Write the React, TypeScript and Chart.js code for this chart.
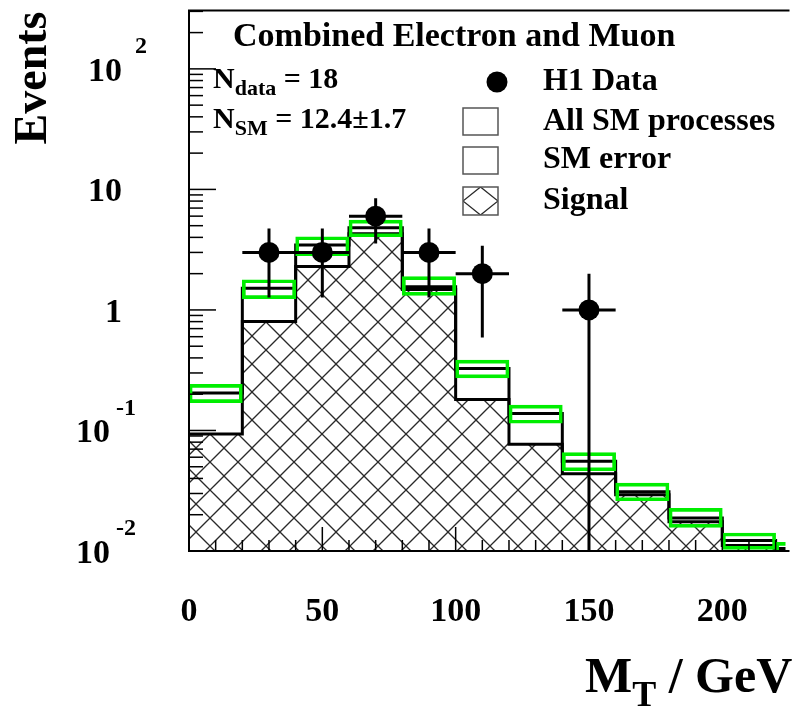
import React, { useEffect, useRef } from "react";
import { Chart, registerables } from "chart.js";
Chart.register(...registerables);

// ---------------- data ----------------
const binEdges = [0, 20, 40, 60, 80, 100, 120, 140, 160, 180, 200, 220, 240];
const smTotal = [0.205, 1.51, 3.46, 4.8, 1.56, 0.327, 0.138, 0.0556, 0.031, 0.0188, 0.0122, 0.0105];
const smErrUp = [0.241, 1.78, 4.05, 5.56, 1.89, 0.383, 0.1625, 0.0655, 0.0366, 0.0226, 0.0141, 0.0118];
const smErrDown = [0.17, 1.24, 2.82, 4.05, 1.32, 0.273, 0.1147, 0.0463, 0.0261, 0.0157, 0.0103, 0.009];
const signal = [0.0936, 0.803, 2.29, 4.29, 1.48, 0.181, 0.0769, 0.0437, 0.0293, 0.0175, 0.0111, 0.0095];
const dataX = [30, 50, 70, 90, 110, 150];
const dataY = [3, 3, 6, 3, 2, 1];
const dataErr = [1.73, 1.73, 2.45, 1.73, 1.41, 1.0];
const dataXErr = [10, 10, 10, 10, 10, 10];
const xTickLabels = [0, 50, 100, 150, 200];
const yLabelValues = [0.01, 0.1, 1, 10, 100];
const yLabelBase = ["10", "10", "1", "10", "10"];
const yLabelExp = ["-2", "-1", "", "", "2"];
const legendLabels = ["H1 Data", "All SM processes", "SM error", "Signal"];
const titleText = "Combined Electron and Muon";
const nDataText = ["N", "data", " = 18"];
const nSMText = ["N", "SM", " = 12.4\u00b11.7"];

const X_MIN = 0;
const X_MAX = 223.7;
const Y_MIN = 0.01;
const Y_MAX = 305;

const FONT = "'Liberation Serif', 'Times New Roman', serif";
const GREEN = "#00ee00";

function makeHatch(): CanvasPattern | string {
  const s = 28;
  const c = document.createElement("canvas");
  c.width = s;
  c.height = s;
  const g = c.getContext("2d");
  if (!g) return "#fff";
  g.fillStyle = "#fff";
  g.fillRect(0, 0, s, s);
  g.strokeStyle = "#2a2a2a";
  g.lineWidth = 1.3;
  for (const d of [-s, 0, s]) {
    g.beginPath();
    g.moveTo(d, 0);
    g.lineTo(d + s, s);
    g.stroke();
    g.beginPath();
    g.moveTo(d + s, 0);
    g.lineTo(d, s);
    g.stroke();
  }
  const p = g.createPattern(c, "repeat");
  return p || "#fff";
}

function stepPoints(vals: number[]) {
  const pts = vals.map((v, i) => ({ x: binEdges[i], y: v }));
  pts.push({ x: binEdges[vals.length], y: vals[vals.length - 1] });
  return pts;
}

function textRun(ctx: CanvasRenderingContext2D, x: number, y: number, parts: { t: string; size: number; dy: number }[]) {
  let cx = x;
  for (const p of parts) {
    ctx.font = `bold ${p.size}px ${FONT}`;
    ctx.fillText(p.t, cx, y + p.dy);
    cx += ctx.measureText(p.t).width;
  }
}

const decorPlugin = {
  id: "decor",
  afterDraw(chart: any) {
    const { ctx, chartArea: a, scales } = chart;
    const xs = scales.x;
    const ys = scales.y;
    ctx.save();
    ctx.fillStyle = "#000";
    ctx.strokeStyle = "#000";
    // frame
    ctx.lineWidth = 2;
    ctx.beginPath();
    ctx.moveTo(a.right + 4, a.top);
    ctx.lineTo(a.left, a.top);
    ctx.lineTo(a.left, a.bottom);
    ctx.lineTo(a.right + 4, a.bottom);
    ctx.stroke();
    // y ticks (inward)
    ctx.lineWidth = 1.5;
    for (let e = -3; e <= 3; e++) {
      for (let m = 1; m <= 9; m++) {
        const v = m * Math.pow(10, e);
        if (v < Y_MIN * 0.999 || v > Y_MAX) continue;
        const py = ys.getPixelForValue(v);
        const len = m === 1 ? 27 : 14;
        ctx.beginPath();
        ctx.moveTo(a.left, py);
        ctx.lineTo(a.left + len, py);
        ctx.stroke();
      }
    }
    // x ticks (inward)
    for (let v = 0; v <= X_MAX; v += 10) {
      const px = xs.getPixelForValue(v);
      const len = v % 50 === 0 ? 24 : 11;
      ctx.beginPath();
      ctx.moveTo(px, a.bottom);
      ctx.lineTo(px, a.bottom - len);
      ctx.stroke();
    }
    // y labels
    ctx.textBaseline = "middle";
    yLabelValues.forEach((v, i) => {
      const py = ys.getPixelForValue(v);
      const exp = yLabelExp[i];
      ctx.font = `bold 34px ${FONT}`;
      ctx.textAlign = "right";
      const baseRight = exp.startsWith("-") ? 110 : 122;
      ctx.fillText(yLabelBase[i], baseRight, py + 3);
      if (exp) {
        ctx.font = `bold 24px ${FONT}`;
        ctx.textAlign = "left";
        ctx.fillText(exp, baseRight + (exp.startsWith("-") ? 6 : 13), py - 22);
      }
    });
    // x tick labels
    ctx.font = `bold 34px ${FONT}`;
    ctx.textAlign = "center";
    xTickLabels.forEach((v) => {
      ctx.fillText(String(v), xs.getPixelForValue(v), 612);
    });
    // axis titles
    ctx.save();
    ctx.translate(34, 78);
    ctx.rotate(-Math.PI / 2);
    ctx.font = `bold 46px ${FONT}`;
    ctx.textAlign = "center";
    ctx.textBaseline = "middle";
    ctx.fillText("Events", 0, 0);
    ctx.restore();
    ctx.textAlign = "left";
    ctx.textBaseline = "alphabetic";
    textRun(ctx, 585, 692, [
      { t: "M", size: 50, dy: 0 },
      { t: "T", size: 36, dy: 14 },
      { t: " / GeV", size: 50, dy: 0 },
    ]);
    // title and numbers
    ctx.textBaseline = "middle";
    ctx.font = `bold 34px ${FONT}`;
    ctx.fillText(titleText, 233, 37);
    textRun(ctx, 213, 80, [
      { t: nDataText[0], size: 30, dy: 0 },
      { t: nDataText[1], size: 22, dy: 9 },
      { t: nDataText[2], size: 30, dy: 0 },
    ]);
    textRun(ctx, 213, 120, [
      { t: nSMText[0], size: 30, dy: 0 },
      { t: nSMText[1], size: 22, dy: 9 },
      { t: nSMText[2], size: 30, dy: 0 },
    ]);
    // legend
    const rows = [82, 122, 160, 201];
    ctx.beginPath();
    ctx.arc(497, rows[0], 10.5, 0, Math.PI * 2);
    ctx.fill();
    ctx.lineWidth = 1.5;
    ctx.strokeStyle = "#555";
    ctx.strokeRect(463, rows[1] - 14, 35, 27);
    ctx.strokeRect(463, rows[2] - 13, 35, 27);
    ctx.save();
    ctx.beginPath();
    ctx.rect(463, rows[3] - 14, 35, 28);
    ctx.clip();
    ctx.strokeStyle = "#2a2a2a";
    ctx.lineWidth = 1.3;
    ctx.beginPath();
    ctx.moveTo(463, rows[3]);
    ctx.lineTo(480.5, rows[3] - 14);
    ctx.lineTo(498, rows[3]);
    ctx.lineTo(480.5, rows[3] + 14);
    ctx.closePath();
    ctx.stroke();
    ctx.restore();
    ctx.strokeStyle = "#555";
    ctx.lineWidth = 1.5;
    ctx.strokeRect(463, rows[3] - 14, 35, 28);
    ctx.fillStyle = "#000";
    ctx.font = `bold 32px ${FONT}`;
    ctx.textAlign = "left";
    ctx.textBaseline = "middle";
    legendLabels.forEach((l, i) => ctx.fillText(l, 543, rows[i]));
    ctx.restore();
  },
};

export default function App() {
  const ref = useRef<HTMLCanvasElement | null>(null);
  useEffect(() => {
    if (!ref.current) return;
    const hatch = makeHatch();
    const centers = binEdges.slice(0, -1).map((e, i) => (e + binEdges[i + 1]) / 2);
    const errPts: { x: number; y: number | null }[] = [];
    dataX.forEach((x, i) => {
      errPts.push({ x, y: Math.max(dataY[i] - dataErr[i], Y_MIN * 0.3) });
      errPts.push({ x, y: dataY[i] + dataErr[i] });
      errPts.push({ x, y: null });
      errPts.push({ x: x - dataXErr[i], y: dataY[i] });
      errPts.push({ x: x + dataXErr[i], y: dataY[i] });
      errPts.push({ x, y: null });
    });
    const chart = new Chart(ref.current, {
      type: "line",
      data: {
        datasets: [
          {
            type: "line",
            label: "Signal",
            data: stepPoints(signal),
            stepped: true,
            fill: "start",
            backgroundColor: hatch as any,
            borderColor: "#000",
            borderWidth: 3,
            pointRadius: 0,
            order: 5,
          },
          {
            type: "line",
            label: "All SM processes",
            data: stepPoints(smTotal),
            stepped: true,
            fill: false,
            borderColor: "#000",
            borderWidth: 3,
            pointRadius: 0,
            order: 4,
          },
          {
            type: "bar",
            label: "SM error",
            data: centers.map((c, i) => ({ x: c, y: [smErrDown[i], smErrUp[i]] })) as any,
            backgroundColor: "rgba(0,0,0,0)",
            borderColor: GREEN,
            borderWidth: 3,
            borderSkipped: false,
            barPercentage: 1,
            categoryPercentage: 1,
            order: 3,
          },
          {
            type: "line",
            label: "errors",
            data: errPts as any,
            borderColor: "#000",
            borderWidth: 3,
            pointRadius: 0,
            spanGaps: false,
            fill: false,
            order: 2,
          },
          {
            type: "line",
            label: "H1 Data",
            data: dataX.map((x, i) => ({ x, y: dataY[i] })),
            showLine: false,
            pointRadius: 10.5,
            pointBackgroundColor: "#000",
            pointBorderWidth: 0,
            order: 1,
          },
        ],
      },
      options: {
        responsive: false,
        animation: false,
        events: [],
        layout: { padding: { left: 0, right: 0, top: 8, bottom: 0 } },
        plugins: { legend: { display: false }, tooltip: { enabled: false } },
        scales: {
          x: {
            type: "linear",
            min: X_MIN,
            max: X_MAX,
            offset: false,
            grid: { display: false },
            border: { display: false },
            ticks: { display: false, stepSize: 50 },
            afterFit: (s: any) => {
              s.height = 171;
            },
          },
          y: {
            type: "logarithmic",
            min: Y_MIN,
            max: Y_MAX,
            grid: { display: false },
            border: { display: false },
            ticks: { display: false },
            afterFit: (s: any) => {
              s.width = 189;
            },
          },
        },
      },
      plugins: [decorPlugin],
    });
    return () => chart.destroy();
  }, []);
  return (
    <div style={{ position: "absolute", left: 0, top: 0, width: 796, height: 722, background: "#fff" }}>
      <canvas ref={ref} width={796} height={722} />
    </div>
  );
}
